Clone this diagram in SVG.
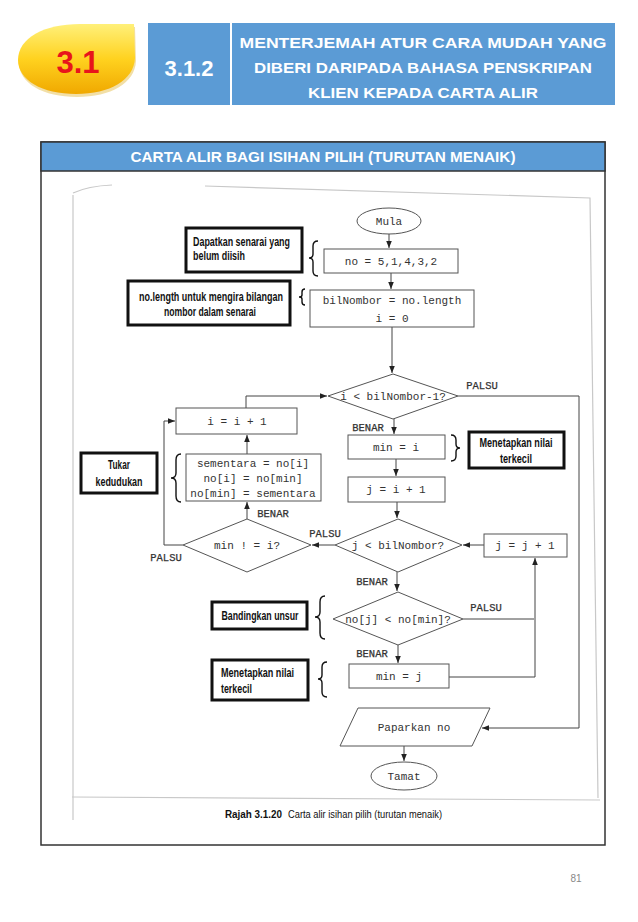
<svg xmlns="http://www.w3.org/2000/svg" width="638" height="922" viewBox="0 0 638 922">
<defs>
<linearGradient id="gy" x1="0" y1="0" x2="0" y2="1">
<stop offset="0" stop-color="#fff07a"/>
<stop offset="0.5" stop-color="#ffd21f"/>
<stop offset="1" stop-color="#f0a800"/>
</linearGradient>
<marker id="ah" viewBox="0 0 10 10" refX="10" refY="5" markerWidth="7" markerHeight="7" orient="auto-start-reverse" markerUnits="userSpaceOnUse">
<path d="M0,1 L10,5 L0,9 Z" fill="#222"/>
</marker>
<style>
.hdr{font-family:"Liberation Sans","Open Sans",sans-serif;font-weight:bold;fill:#fff;text-anchor:middle}
.nd{fill:#fff;stroke:#555;stroke-width:1}
.mono{font-family:"Liberation Mono","DejaVu Sans Mono",monospace;font-size:11px;fill:#333;text-anchor:middle}
.lbl{font-family:"Liberation Mono","DejaVu Sans Mono",monospace;font-size:10.5px;fill:#333;stroke:#333;stroke-width:0.25;text-anchor:middle}
.ann{fill:#fff;stroke:#111;stroke-width:3}
.at{font-family:"Liberation Sans",Arial,sans-serif;font-size:12px;font-weight:bold;fill:#111}
.cn{fill:none;stroke:#444;stroke-width:1}
.br{fill:none;stroke:#111;stroke-width:1.4}
.scan{fill:none;stroke:#c8c8c8;stroke-width:1.2}
</style>
</defs>
<rect width="638" height="922" fill="#fff"/>

<g id="header">
<path d="M134,24 L135,58 C134,80 110,94 76,94 C42,94 18,80 18,60 C18,38 44,24 80,24 Z" fill="#d9a400" opacity="0.35" transform="translate(1,3)"/>
<path d="M134,24 L135,58 C134,80 110,94 76,94 C42,94 18,80 18,60 C18,38 44,24 80,24 Z" fill="url(#gy)"/>
<text x="78" y="73" font-family="Liberation Sans,Open Sans,sans-serif" font-size="31" font-weight="bold" fill="#e8141b" text-anchor="middle">3.1</text>
<rect x="148" y="23" width="82" height="82" fill="#5b9bd5"/>
<text class="hdr" x="189" y="76" font-size="22">3.1.2</text>
<rect x="232" y="23" width="383" height="82" fill="#5b9bd5"/>
<text class="hdr" x="423" y="48" font-size="15" textLength="367" lengthAdjust="spacingAndGlyphs">MENTERJEMAH ATUR CARA MUDAH YANG</text>
<text class="hdr" x="423" y="73" font-size="15" textLength="338" lengthAdjust="spacingAndGlyphs">DIBERI DARIPADA BAHASA PENSKRIPAN</text>
<text class="hdr" x="423" y="98" font-size="15" textLength="230" lengthAdjust="spacingAndGlyphs">KLIEN KEPADA  CARTA ALIR</text>
</g>

<g id="frame">
<rect x="41" y="142" width="564" height="703" fill="none" stroke="#333" stroke-width="1.5"/>
<rect x="41" y="142" width="564" height="29" fill="#5b9bd5" stroke="#333" stroke-width="1.5"/>
<text class="hdr" x="323" y="162" font-size="14" textLength="385" lengthAdjust="spacingAndGlyphs">CARTA ALIR BAGI ISIHAN PILIH (TURUTAN MENAIK)</text>
</g>

<g id="scan-edges">
<path class="scan" d="M73,193 Q88,186 112,185"/>
<path class="scan" d="M205,186 L590,198 L598,798"/>
<path class="scan" d="M72,797 L600,800"/>
<path class="scan" d="M73,195 L73,820" stroke="#e2e2e2"/>
</g>

<g id="connectors">
<line class="cn" x1="389" y1="234" x2="389" y2="248" marker-end="url(#ah)"/>
<line class="cn" x1="391" y1="273" x2="391" y2="289" marker-end="url(#ah)"/>
<line class="cn" x1="392" y1="327" x2="392" y2="373" marker-end="url(#ah)"/>
<path class="cn" d="M458,396 H579 V728 H482" marker-end="url(#ah)"/>
<line class="cn" x1="394" y1="419" x2="394" y2="434" marker-end="url(#ah)"/>
<line class="cn" x1="396" y1="459" x2="396" y2="476" marker-end="url(#ah)"/>
<line class="cn" x1="397" y1="502" x2="397" y2="518" marker-end="url(#ah)"/>
<line class="cn" x1="335" y1="545" x2="312" y2="545" marker-end="url(#ah)"/>
<line class="cn" x1="247" y1="519" x2="247" y2="502" marker-end="url(#ah)"/>
<line class="cn" x1="247" y1="454" x2="247" y2="435" marker-end="url(#ah)"/>
<path class="cn" d="M246,408 V396 H327" marker-end="url(#ah)"/>
<path class="cn" d="M183,545 H164 V421 H175" marker-end="url(#ah)"/>
<line class="cn" x1="484" y1="545" x2="463" y2="545" marker-end="url(#ah)"/>
<line class="cn" x1="397" y1="572" x2="397" y2="591" marker-end="url(#ah)"/>
<line class="cn" x1="463" y1="619" x2="534" y2="619"/>
<line class="cn" x1="398" y1="645" x2="398" y2="663" marker-end="url(#ah)"/>
<path class="cn" d="M449,677 H535 V558" marker-end="url(#ah)"/>
<line class="cn" x1="404" y1="746" x2="404" y2="761" marker-end="url(#ah)"/>
<text class="lbl" x="482" y="389">PALSU</text>
<text class="lbl" x="368" y="431">BENAR</text>
<text class="lbl" x="325" y="537">PALSU</text>
<text class="lbl" x="273" y="517">BENAR</text>
<text class="lbl" x="166" y="561">PALSU</text>
<text class="lbl" x="372" y="585">BENAR</text>
<text class="lbl" x="486" y="611">PALSU</text>
<text class="lbl" x="372" y="657">BENAR</text>
</g>

<g id="mula"><ellipse class="nd" cx="389" cy="221" rx="32" ry="13"/><text class="mono" x="389" y="225">Mula</text></g>
<g id="init-no"><rect class="nd" x="324" y="249" width="134" height="24"/><text class="mono" x="391" y="265">no = 5,1,4,3,2</text></g>
<g id="init-bil"><rect class="nd" x="310" y="290" width="164" height="37"/><text class="mono" x="392" y="304">bilNombor = no.length</text><text class="mono" x="392" y="322">i = 0</text></g>
<g id="cond-i"><polygon class="nd" points="328,396 393,374 458,396 393,419"/><text class="mono" x="393" y="400">i &lt; bilNombor-1?</text></g>
<g id="min-i"><rect class="nd" x="348" y="435" width="97" height="24"/><text class="mono" x="396" y="451">min = i</text></g>
<g id="j-init"><rect class="nd" x="348" y="477" width="97" height="25"/><text class="mono" x="396" y="493">j = i + 1</text></g>
<g id="cond-j"><polygon class="nd" points="335,545 398,519 462,545 398,572"/><text class="mono" x="398" y="549">j &lt; bilNombor?</text></g>
<g id="cond-min"><polygon class="nd" points="183,545 247,519 311,545 247,572"/><text class="mono" x="247" y="549">min ! = i?</text></g>
<g id="swap"><rect class="nd" x="186" y="454" width="135" height="47"/><text class="mono" x="253" y="467">sementara = no[i]</text><text class="mono" x="253" y="482">no[i] = no[min]</text><text class="mono" x="253" y="497">no[min] = sementara</text></g>
<g id="i-inc"><rect class="nd" x="176" y="408" width="121" height="26"/><text class="mono" x="237" y="425">i = i + 1</text></g>
<g id="j-inc"><rect class="nd" x="484" y="534" width="83" height="23"/><text class="mono" x="525" y="549">j = j + 1</text></g>
<g id="cond-cmp"><polygon class="nd" points="333,619 398,592 463,619 398,645"/><text class="mono" x="398" y="623">no[j] &lt; no[min]?</text></g>
<g id="min-j"><rect class="nd" x="349" y="664" width="100" height="24"/><text class="mono" x="399" y="680">min = j</text></g>
<g id="paparkan"><polygon class="nd" points="358,708 490,708 472,746 340,746"/><text class="mono" x="414" y="731">Paparkan no</text></g>
<g id="tamat"><ellipse class="nd" cx="404" cy="776" rx="33" ry="14"/><text class="mono" x="404" y="780">Tamat</text></g>

<g id="ann-dapatkan">
<rect class="ann" x="186" y="228" width="116" height="44"/>
<text class="at" x="193" y="246" textLength="97" lengthAdjust="spacingAndGlyphs">Dapatkan senarai yang</text>
<text class="at" x="193" y="260" textLength="52" lengthAdjust="spacingAndGlyphs">belum diisih</text>
<path class="br" d="M318,241 Q313,241 313,246 V254 Q313,258 309,258 Q313,258 313,262 V271 Q313,276 318,276"/>
</g>
<g id="ann-length">
<rect class="ann" x="128" y="281" width="162" height="44"/>
<text class="at" x="211" y="301" text-anchor="middle" textLength="144" lengthAdjust="spacingAndGlyphs">no.length untuk mengira bilangan</text>
<text class="at" x="210" y="316" text-anchor="middle" textLength="92" lengthAdjust="spacingAndGlyphs">nombor dalam senarai</text>
<path class="br" d="M305,289 Q302,289 302,292 V295 Q302,297 299,297 Q302,297 302,299 V302 Q302,305 305,305"/>
</g>
<g id="ann-min1">
<rect class="ann" x="469" y="432" width="95" height="36"/>
<text class="at" x="516" y="447" text-anchor="middle" textLength="73" lengthAdjust="spacingAndGlyphs">Menetapkan nilai</text>
<text class="at" x="516" y="463" text-anchor="middle" textLength="32" lengthAdjust="spacingAndGlyphs">terkecil</text>
<path class="br" d="M451,435 Q456,435 456,440 V444 Q456,448 460,448 Q456,448 456,452 V456 Q456,461 451,461"/>
</g>
<g id="ann-tukar">
<rect class="ann" x="81" y="453" width="76" height="40"/>
<text class="at" x="119" y="469" text-anchor="middle" textLength="22" lengthAdjust="spacingAndGlyphs">Tukar</text>
<text class="at" x="119" y="486" text-anchor="middle" textLength="47" lengthAdjust="spacingAndGlyphs">kedudukan</text>
<path class="br" d="M181,454 Q176,454 176,460 V473 Q176,478 171,478 Q176,478 176,483 V496 Q176,502 181,502"/>
</g>
<g id="ann-banding">
<rect class="ann" x="212" y="602" width="95" height="27"/>
<text class="at" x="260" y="620" text-anchor="middle" textLength="77" lengthAdjust="spacingAndGlyphs">Bandingkan unsur</text>
<path class="br" d="M325,596 Q320,596 320,602 V612 Q320,617 315,617 Q320,617 320,622 V633 Q320,639 325,639"/>
</g>
<g id="ann-min2">
<rect class="ann" x="212" y="660" width="96" height="40"/>
<text class="at" x="221" y="677" textLength="73" lengthAdjust="spacingAndGlyphs">Menetapkan nilai</text>
<text class="at" x="221" y="693" textLength="31" lengthAdjust="spacingAndGlyphs">terkecil</text>
<path class="br" d="M327,662 Q322,662 322,667 V675 Q322,679 318,679 Q322,679 322,683 V692 Q322,697 327,697"/>
</g>

<g id="caption">
<text x="225" y="818" font-family="Liberation Sans,Arial,sans-serif" font-size="11.5" fill="#111"><tspan font-weight="bold" textLength="57" lengthAdjust="spacingAndGlyphs">Rajah 3.1.20</tspan><tspan dx="6" textLength="154" lengthAdjust="spacingAndGlyphs">Carta alir isihan pilih (turutan menaik)</tspan></text>
</g>
<text x="576" y="882" font-family="Liberation Sans,Arial,sans-serif" font-size="10" fill="#888" text-anchor="middle">81</text>
</svg>
